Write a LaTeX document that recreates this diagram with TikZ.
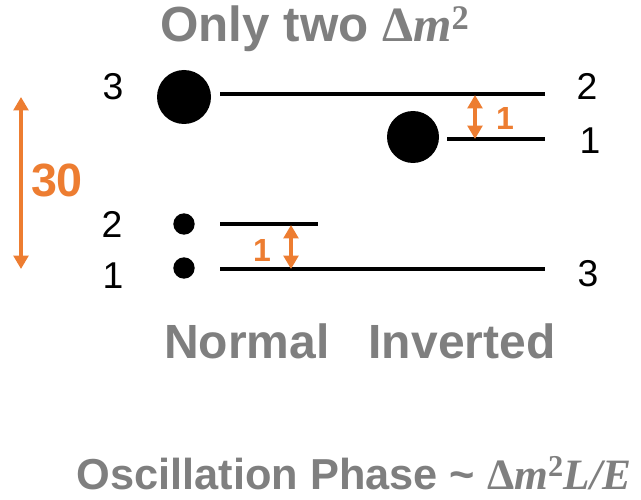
\documentclass[tikz,border=0pt]{standalone}
\usepackage{fontspec}
\setmainfont{Liberation Sans}
\newfontfamily\timesfont{Liberation Serif}
\usetikzlibrary{arrows.meta,positioning}
\definecolor{HierGray}{HTML}{7F7F7F}
\definecolor{HierOrange}{HTML}{ED7D31}
\newcommand{\dmsq}{{\timesfont\bfseries Δ\textit{m}\textsuperscript{2}}}

\begin{document}
\begin{tikzpicture}[x=0.75pt,y=-0.75pt,every node/.style={inner sep=0pt},
    heading/.style={font=\bfseries\fontsize{36}{42}\selectfont,text=HierGray,anchor=base},
    lvlnum/.style={font=\fontsize{28}{34}\selectfont,anchor=base},
    gapnum/.style={font=\bfseries\fontsize{24}{28}\selectfont,text=HierOrange},
    levelline/.style={line width=3pt},
    splitarrow/.style={{Triangle[width=11pt,length=10pt]}-{Triangle[width=11pt,length=10pt]},line width=2.4pt,HierOrange},
    mass/.style={circle,fill=black}]
    \useasboundingbox (0,0) rectangle (641,499);
    % titles
    \node[heading,font=\bfseries\fontsize{37}{42}\selectfont] (title) at (315,42) {Only two \dmsq};
    \node[heading] (normal) at (247,358) {Normal};
    \node[heading] (inverted) at (462,358) {Inverted};
    \node[heading,font=\bfseries\fontsize{32.5}{38}\selectfont] (phase) at (354,489) {Oscillation Phase \textasciitilde{} \dmsq{\timesfont\bfseries\itshape L/E}};
    % masses
    \node[mass,minimum size=40.5pt] (bigN) at (184,97) {};
    \node[mass,minimum size=16pt] (dotTwo) at (184,224) {};
    \node[mass,minimum size=16pt] (dotOne) at (184,268) {};
    \node[mass,minimum size=39pt] (bigI) at (413,137) {};
    % levels
    \coordinate (topL) at (220,94);   \coordinate (topR) at (545,94);
    \coordinate (midL) at (220,224);  \coordinate (midR) at (318,224);
    \coordinate (lowL) at (220,269);  \coordinate (lowR) at (545,269);
    \coordinate (invL) at (447,139);  \coordinate (invR) at (545,139);
    \draw[levelline] (topL)--(topR);
    \draw[levelline] (midL)--(midR);
    \draw[levelline] (lowL)--(lowR);
    \draw[levelline] (invL)--(invR);
    % level numbers
    \node[lvlnum] (nThree) at (113,99) {3};
    \node[lvlnum] (nTwo) at (112,237) {2};
    \node[lvlnum] (nOne) at (113,288) {1};
    \node[lvlnum] (iTwo) at (587,100) {2};
    \node[lvlnum] (iOne) at (590,153) {1};
    \node[lvlnum] (iThree) at (588,286) {3};
    % splittings
    \coordinate (bigTop) at (21,97);  \coordinate (bigBot) at (21,269);
    \coordinate (nsTop) at (291,225); \coordinate (nsBot) at (291,269);
    \coordinate (isTop) at (475,95);  \coordinate (isBot) at (475,139);
    \draw[splitarrow] (bigTop)--(bigBot);
    \draw[splitarrow] (nsTop)--(nsBot);
    \draw[splitarrow] (isTop)--(isBot);
    \node[gapnum,font=\bfseries\fontsize{35}{40}\selectfont] (big) at (57,180) {30};
    \node[gapnum] (nsGap) at (262,250) {1};
    \node[gapnum] (isGap) at (505,118) {1};
\end{tikzpicture}
\end{document}
